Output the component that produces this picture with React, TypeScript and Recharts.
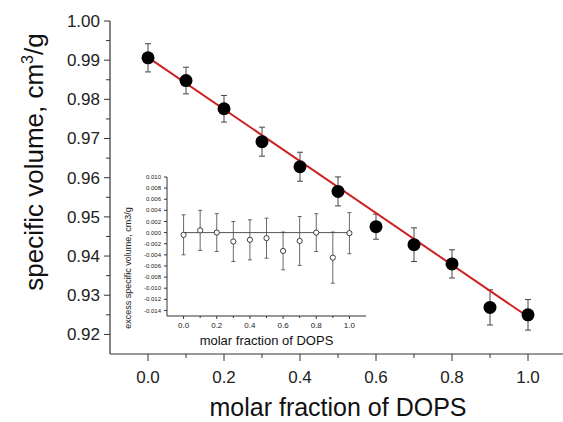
import { ComposedChart, ErrorBar, Line, ReferenceLine, Scatter, XAxis, YAxis } from 'recharts'

const fraction = [0, 0.1, 0.2, 0.3, 0.4, 0.5, 0.6, 0.7, 0.8, 0.9, 1.0]
const specificVolume = [0.9906, 0.9848, 0.9776, 0.9692, 0.9628, 0.9565, 0.9475, 0.9429, 0.938, 0.9269, 0.925]
const specificVolumeErr = [0.0036, 0.0034, 0.0034, 0.0037, 0.0037, 0.0037, 0.0032, 0.0043, 0.0036, 0.0045, 0.0039]
const fitFraction = [0, 1]
const fitVolume = [0.9907, 0.9245]
const excessVolume = [-0.0004, 0.0004, 0, -0.0016, -0.0013, -0.001, -0.0033, -0.0015, 0, -0.0045, -0.0001]
const excessErr = [0.0036, 0.0036, 0.0034, 0.0036, 0.0036, 0.0036, 0.0034, 0.0044, 0.0034, 0.0046, 0.0037]

const mainXTicks = [0, 0.1, 0.2, 0.3, 0.4, 0.5, 0.6, 0.7, 0.8, 0.9, 1.0]
const mainYTicks = [0.92, 0.925, 0.93, 0.935, 0.94, 0.945, 0.95, 0.955, 0.96, 0.965, 0.97, 0.975, 0.98, 0.985, 0.99, 0.995, 1.0]
const insetXTicks = [0, 0.1, 0.2, 0.3, 0.4, 0.5, 0.6, 0.7, 0.8, 0.9, 1.0]
const insetYTicks = [-0.014, -0.012, -0.01, -0.008, -0.006, -0.004, -0.002, 0, 0.002, 0.004, 0.006, 0.008, 0.01]

const mainData = fraction.map((x, i) => ({ x, y: specificVolume[i], err: specificVolumeErr[i] }))
const fitData = fitFraction.map((x, i) => ({ x, y: fitVolume[i] }))
const insetData = fraction.map((x, i) => ({ x, y: excessVolume[i], err: excessErr[i] }))

const FONT = '"Liberation Sans", Arial, sans-serif'
const AXIS = '#333'

type TickOpts = {
  side: 'bottom' | 'left'
  margin: number
  len: number
  minorLen: number
  fontSize: number
  isMajor: (v: number) => boolean
  format: (v: number) => string
}

// tick lines + labels drawn together so minor ticks can stay unlabeled
function makeTick(o: TickOpts) {
  return (props: any) => {
    const { x, y, payload } = props
    const v = payload.value as number
    const major = o.isMajor(v)
    const l = major ? o.len : o.minorLen
    if (o.side === 'bottom') {
      const ay = y - o.margin
      return (
        <g>
          <line x1={x} y1={ay} x2={x} y2={ay + l} stroke={AXIS} strokeWidth={1} />
          {major && (
            <text x={x} y={y} dy="0.71em" textAnchor="middle" fontSize={o.fontSize} fontFamily={FONT} fill="#222">
              {o.format(v)}
            </text>
          )}
        </g>
      )
    }
    const ax = x + o.margin
    return (
      <g>
        <line x1={ax} y1={y} x2={ax - l} y2={y} stroke={AXIS} strokeWidth={1} />
        {major && (
          <text x={x} y={y} dy="0.35em" textAnchor="end" fontSize={o.fontSize} fontFamily={FONT} fill="#222">
            {o.format(v)}
          </text>
        )}
      </g>
    )
  }
}

const MX = 17
const MY = 10
const IX = 6
const IY = 6

const mainXTick = makeTick({
  side: 'bottom', margin: MX, len: 7, minorLen: 4, fontSize: 17,
  isMajor: (v) => Math.round(v * 10) % 2 === 0,
  format: (v) => v.toFixed(1),
})
const mainYTick = makeTick({
  side: 'left', margin: MY, len: 6, minorLen: 4, fontSize: 17,
  isMajor: (v) => Math.round(v * 1000) % 10 === 0,
  format: (v) => v.toFixed(2),
})
const insetXTick = makeTick({
  side: 'bottom', margin: IX, len: 3, minorLen: 2, fontSize: 8,
  isMajor: (v) => Math.round(v * 10) % 2 === 0,
  format: (v) => v.toFixed(1),
})
const insetYTick = makeTick({
  side: 'left', margin: IY, len: 3, minorLen: 2, fontSize: 6,
  isMajor: () => true,
  format: (v) => v.toFixed(3),
})

const bigDot = (p: any) => <circle cx={p.cx} cy={p.cy} r={6.5} fill="#000" />
const openDot = (p: any) => <circle cx={p.cx} cy={p.cy} r={2.6} fill="#fff" stroke="#111" strokeWidth={0.8} />

export default function App() {
  return (
    <div style={{ position: 'absolute', left: 0, top: 0, width: 563, height: 422, overflow: 'hidden', background: '#fff' }}>
      <div style={{ position: 'absolute', left: 0, top: 0 }}>
        <ComposedChart width={566} height={422} margin={{ top: 21, right: 0, bottom: 0, left: 0 }}>
          <XAxis
            type="number"
            dataKey="x"
            domain={[-0.1, 1.1]}
            allowDataOverflow
            ticks={mainXTicks}
            interval={0}
            tickSize={0}
            tickMargin={MX}
            tick={mainXTick}
            height={68}
            stroke={AXIS}
            strokeWidth={1.2}
            label={{
              content: (p: any) => (
                <text x={p.viewBox.x + p.viewBox.width / 2} y={p.viewBox.y + 53} dy="0.35em" textAnchor="middle" fontSize={25} fontFamily={FONT} fill="#111">
                  molar fraction of DOPS
                </text>
              ),
            }}
          />
          <YAxis
            type="number"
            dataKey="y"
            domain={[0.915, 1.0]}
            allowDataOverflow
            ticks={mainYTicks}
            interval={0}
            tickSize={0}
            tickMargin={MY}
            tick={mainYTick}
            width={110}
            stroke={AXIS}
            strokeWidth={1.2}
            label={{
              content: (p: any) => {
                const cx = p.viewBox.x + 34
                const cy = p.viewBox.y + 141
                return (
                  <text x={cx} y={cy} dy="0.35em" transform={`rotate(-90, ${cx}, ${cy})`} textAnchor="middle" fontSize={26} fontFamily={FONT} fill="#111">
                    specific volume, cm<tspan dy={-10} fontSize={16}>3</tspan><tspan dy={10}>/g</tspan>
                  </text>
                )
              },
            }}
          />
          <Scatter data={mainData} shape={bigDot} isAnimationActive={false}>
            <ErrorBar dataKey="err" direction="y" width={3} stroke="#444" strokeWidth={1} isAnimationActive={false} />
          </Scatter>
          <Line data={fitData} dataKey="y" stroke="#cc2222" strokeWidth={2} dot={false} isAnimationActive={false} />
        </ComposedChart>
      </div>
      <div style={{ position: 'absolute', left: 120, top: 170 }}>
        <ComposedChart width={260} height={190} margin={{ top: 7, right: 14, bottom: 0, left: 0 }}>
          <XAxis
            type="number"
            dataKey="x"
            domain={[-0.1, 1.1]}
            allowDataOverflow
            ticks={insetXTicks}
            interval={0}
            tickSize={0}
            tickMargin={IX}
            tick={insetXTick}
            height={44}
            stroke={AXIS}
            strokeWidth={1}
            label={{
              content: (p: any) => (
                <text x={p.viewBox.x + p.viewBox.width / 2} y={p.viewBox.y + 24} dy="0.35em" textAnchor="middle" fontSize={13} fontFamily={FONT} fill="#111">
                  molar fraction of DOPS
                </text>
              ),
            }}
          />
          <YAxis
            type="number"
            dataKey="y"
            domain={[-0.015, 0.01]}
            allowDataOverflow
            ticks={insetYTicks}
            interval={0}
            tickSize={0}
            tickMargin={IY}
            tick={insetYTick}
            width={47}
            stroke={AXIS}
            strokeWidth={1}
            label={{
              content: (p: any) => {
                const cx = p.viewBox.x + 8
                const cy = 98
                return (
                  <text x={cx} y={cy} dy="0.35em" transform={`rotate(-90, ${cx}, ${cy})`} textAnchor="middle" fontSize={9} fontFamily={FONT} fill="#222">
                    excess specific volume, cm3/g
                  </text>
                )
              },
            }}
          />
          <ReferenceLine segment={[{ x: 0, y: 0 }, { x: 1, y: 0 }]} stroke="#555" strokeWidth={1} />
          <Scatter data={insetData} shape={openDot} isAnimationActive={false}>
            <ErrorBar dataKey="err" direction="y" width={2} stroke="#444" strokeWidth={0.8} isAnimationActive={false} />
          </Scatter>
        </ComposedChart>
      </div>
    </div>
  )
}
